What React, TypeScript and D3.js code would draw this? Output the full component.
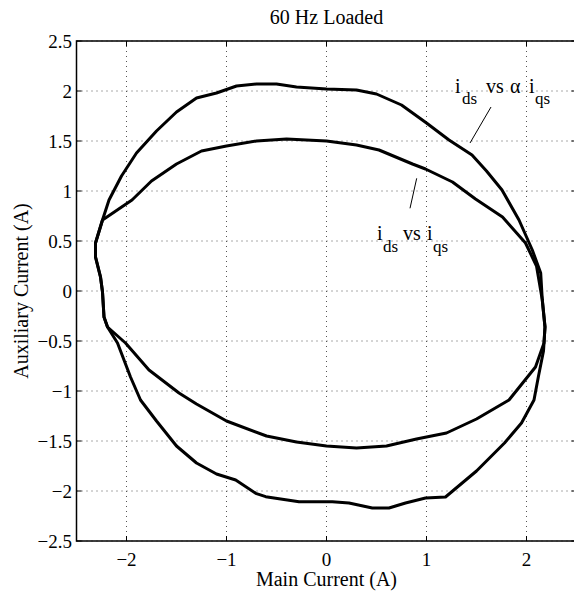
import React from "react";
import * as d3 from "d3";

const W = 574;
const H = 591;

const xTicks = [-2, -1, 0, 1, 2];
const yTicks = [-2.5, -2, -1.5, -1, -0.5, 0, 0.5, 1, 1.5, 2, 2.5];

// i_ds vs alpha*i_qs (outer loop), [main, auxiliary]
const outerLoop: [number, number][] = [
  [0, 2.02], [0.3, 2.01], [0.5, 1.97], [0.75, 1.86], [1.0, 1.68], [1.225, 1.51],
  [1.455, 1.36], [1.6, 1.2], [1.755, 1.01], [1.925, 0.71], [2.058, 0.41], [2.142, 0.18],
  [2.158, -0.09], [2.185, -0.36], [2.17, -0.6], [2.12, -0.85], [2.075, -1.09], [1.95, -1.32],
  [1.78, -1.52], [1.5, -1.8], [1.19, -2.06], [0.99, -2.07], [0.79, -2.12], [0.625, -2.17],
  [0.458, -2.17], [0.225, -2.12], [0.058, -2.107], [-0.275, -2.107], [-0.608, -2.057],
  [-0.708, -2.023], [-0.908, -1.89], [-1.1, -1.83], [-1.3, -1.72], [-1.5, -1.55],
  [-1.7, -1.3], [-1.86, -1.09], [-1.96, -0.86], [-2.09, -0.52], [-2.19, -0.36],
  [-2.225, -0.26], [-2.24, -0.01], [-2.26, 0.14], [-2.31, 0.34], [-2.31, 0.48],
  [-2.24, 0.71], [-2.175, 0.91], [-2.05, 1.15], [-1.9, 1.38], [-1.7, 1.6], [-1.5, 1.79],
  [-1.3, 1.93], [-1.1, 1.98], [-0.9, 2.05], [-0.7, 2.07], [-0.5, 2.07], [-0.3, 2.04],
];

// i_ds vs i_qs (inner loop)
const innerLoop: [number, number][] = [
  [0, 1.5], [0.3, 1.46], [0.525, 1.41], [0.86, 1.27], [0.99, 1.22], [1.26, 1.09],
  [1.49, 0.92], [1.76, 0.74], [1.99, 0.48], [2.1, 0.25], [2.158, -0.09], [2.185, -0.36],
  [2.175, -0.52], [2.09, -0.76], [1.825, -1.09], [1.5, -1.28], [1.2, -1.42], [0.9, -1.48],
  [0.6, -1.55], [0.3, -1.57], [0, -1.55], [-0.3, -1.51], [-0.6, -1.45], [-1.0, -1.3],
  [-1.3, -1.13], [-1.475, -1.02], [-1.775, -0.79], [-2.01, -0.52], [-2.19, -0.36],
  [-2.225, -0.26], [-2.24, -0.01], [-2.26, 0.14], [-2.31, 0.34], [-2.31, 0.48],
  [-2.24, 0.71], [-1.945, 0.91], [-1.75, 1.1], [-1.5, 1.27], [-1.25, 1.4], [-1.0, 1.45],
  [-0.7, 1.5], [-0.4, 1.52],
];

const FONT = "'Liberation Serif', 'Times New Roman', serif";

const fmt = (d: number) => (d < 0 ? "\u2212" + Math.abs(d) : String(d));

export default function App() {
  const left = 76.5, right = 576.5, top = 41, bottom = 541;
  const x = d3.scaleLinear().domain([-2.5, 2.5]).range([left, right]);
  const y = d3.scaleLinear().domain([-2.5, 2.5]).range([bottom, top]);
  const lineGen = d3
    .line<[number, number]>()
    .x((d) => x(d[0]))
    .y((d) => y(d[1]))
    .curve(d3.curveLinearClosed);
  const tick = 5;

  return (
    <svg
      width={W}
      height={H}
      style={{ position: "absolute", left: 0, top: 0, background: "#fff" }}
      fontFamily={FONT}
    >
      <rect x={0} y={0} width={W} height={H} fill="#fff" />
      {xTicks.map((t) => (
        <line key={"gx" + t} x1={x(t)} x2={x(t)} y1={top} y2={bottom}
          stroke="#555" strokeWidth={1} strokeDasharray="1 4" />
      ))}
      {yTicks.map((t) => (
        <line key={"gy" + t} x1={left} x2={right} y1={y(t)} y2={y(t)}
          stroke="#555" strokeWidth={1} strokeDasharray="1 4" />
      ))}
      {xTicks.map((t) => (
        <g key={"tx" + t}>
          <line x1={x(t)} x2={x(t)} y1={bottom} y2={bottom - tick} stroke="#000" />
          <line x1={x(t)} x2={x(t)} y1={top} y2={top + tick} stroke="#000" />
          <text x={x(t)} y={566} fontSize={19} textAnchor="middle">{fmt(t)}</text>
        </g>
      ))}
      {yTicks.map((t) => (
        <g key={"ty" + t}>
          <line x1={left} x2={left + tick} y1={y(t)} y2={y(t)} stroke="#000" />
          <line x1={right} x2={right - tick} y1={y(t)} y2={y(t)} stroke="#000" />
          <text x={72} y={y(t) + 7} fontSize={19} textAnchor="end">{fmt(t)}</text>
        </g>
      ))}
      <path d={lineGen(outerLoop) || ""} fill="none" stroke="#000" strokeWidth={3} strokeLinejoin="round" />
      <path d={lineGen(innerLoop) || ""} fill="none" stroke="#000" strokeWidth={3} strokeLinejoin="round" />
      <rect x={left} y={top} width={right - left} height={bottom - top} fill="none" stroke="#000" strokeWidth={1.5} />
      <g fontSize={20}>
        <text x={455} y={93}>i</text>
        <text x={462} y={104} fontSize={17}>ds</text>
        <text x={486} y={93}>vs</text>
        <text x={510} y={93}>{"\u03b1"}</text>
        <text x={529} y={93}>i</text>
        <text x={535} y={104} fontSize={17}>qs</text>
        <line x1={491} y1={107} x2={470} y2={143} stroke="#000" strokeWidth={1} />

        <text x={377} y={240}>i</text>
        <text x={383} y={252} fontSize={17}>ds</text>
        <text x={403} y={240}>vs</text>
        <text x={427} y={240}>i</text>
        <text x={433} y={252} fontSize={17}>qs</text>
        <line x1={416.7} y1={178.3} x2={410} y2={208.3} stroke="#000" strokeWidth={1} />
      </g>
      <text x={(left + right) / 2} y={24} fontSize={20} textAnchor="middle">60 Hz Loaded</text>
      <text x={(left + right) / 2} y={586} fontSize={20} textAnchor="middle">Main Current (A)</text>
      <text transform={`translate(28,${(top + bottom) / 2}) rotate(-90)`} fontSize={20} textAnchor="middle">
        Auxiliary Current (A)
      </text>
    </svg>
  );
}
